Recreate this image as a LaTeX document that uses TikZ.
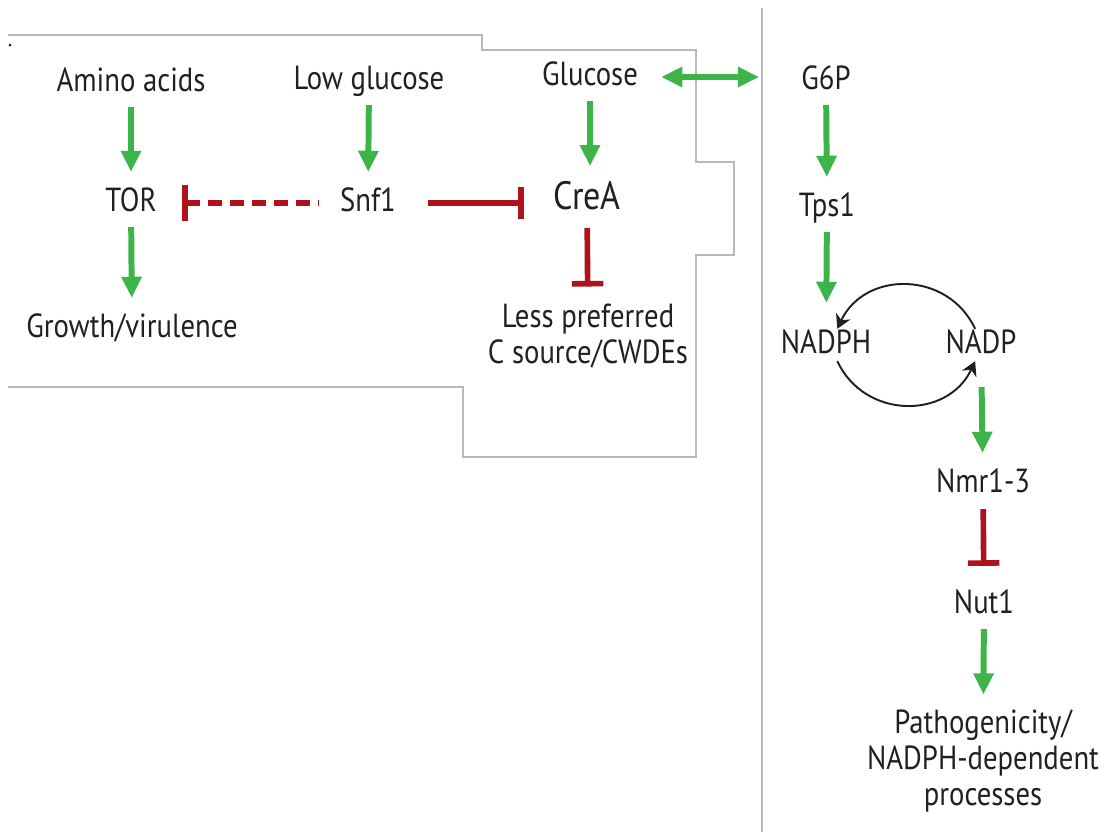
\documentclass[tikz,border=0pt]{standalone}
\usepackage{fontspec}
\setmainfont{PT Sans}[FakeStretch=0.86]
\usetikzlibrary{arrows.meta}
\definecolor{texto}{RGB}{35,31,32}
\definecolor{verde}{RGB}{60,180,72}
\definecolor{rojo}{RGB}{176,18,28}
\definecolor{marco}{RGB}{185,185,185}

\begin{document}
\begin{tikzpicture}[x=0.02cm, y=-0.02cm,
    nodo/.style={font=\fontsize{19}{20.5}\selectfont, text=texto, inner sep=0pt,
                 text height=14pt, text depth=4pt, align=center},
    varias/.style={nodo, text height={}, text depth={}},
    activa/.style={-{Triangle[width=11pt,length=12pt]}, line width=3.4pt, color=verde,
                   shorten <=0.16cm, shorten >=0.3cm},
    inhibe/.style={-{Bar[width=18pt]}, line width=3.2pt, color=rojo},
    ciclo/.style={-{Stealth[length=8pt,width=9pt]}, line width=1.1pt, color=texto}]
  \useasboundingbox (0,0) rectangle (1111,832);
  \draw[marco, line width=0.6pt] (8,35) -- (482,35) -- (482,50) -- (696,50) -- (696,162)
    -- (734,162) -- (734,255) -- (696,255) -- (696,457) -- (463,457) -- (463,387) -- (8,387);
  \draw[marco, line width=0.6pt] (762,8) -- (762,832);
  \fill[texto] (10,45) circle (1.5);
  % nodos
  \node[nodo] (amino) at (131,83) {Amino acids};
  \node[nodo] (bajagluc) at (369,81) {Low glucose};
  \node[nodo] (glucosa) at (590,77) {Glucose};
  \node[nodo] (g6p) at (826,81) {G6P};
  \node[nodo] (tor) at (131,203) {TOR};
  \node[nodo] (snf1) at (368,203) {Snf1};
  \node[nodo, font=\fontsize{22.5}{24}\selectfont, text height=16pt] (crea) at (587,199) {CreA};
  \node[nodo] (crecimiento) at (132,329) {Growth/virulence};
  \node[varias] (fuente) at (588,336) {Less preferred\\C source/CWDEs};
  \node[nodo] (tps1) at (827,208) {Tps1};
  \node[nodo] (nadph) at (826,345) {NADPH};
  \node[nodo] (nadp) at (981,345) {NADP};
  \node[nodo] (nmr) at (983,484) {Nmr1-3};
  \node[nodo] (nut1) at (984,605) {Nut1};
  \node[varias] (patog) at (983,761) {Pathogenicity/\\NADPH-dependent\\processes};
  % conexiones
  \draw[activa] (amino) -- (tor);
  \draw[activa] (bajagluc) -- (snf1);
  \draw[activa] (glucosa.south) -- (glucosa.south |- crea.north);
  \draw[activa] (tor) -- (crecimiento);
  \draw[activa, {Triangle[width=11pt,length=12pt]}-{Triangle[width=11pt,length=12pt]},
        shorten <=0.46cm, shorten >=0.84cm] (glucosa.east) -- (glucosa.east -| g6p.west);
  \draw[activa] (g6p) -- (tps1);
  \draw[activa, shorten >=0.52cm] (tps1) -- (nadph);
  \draw[activa, shorten <=0.52cm] (nadp) -- (nmr);
  \draw[activa] (nut1) -- (patog);
  \draw[inhibe, shorten <=0.64cm, shorten >=0.58cm] (snf1.east) -- (snf1.east -| crea.west);
  \draw[inhibe, {Bar[width=20pt]}-, dash pattern=on 8pt off 4.5pt,
        shorten <=0.5cm, shorten >=0.42cm] (tor.east) -- (snf1.west);
  \draw[inhibe, shorten <=0.22cm, shorten >=0.34cm] (crea) -- (fuente);
  \draw[inhibe, shorten <=0.18cm, shorten >=0.46cm] (nmr) -- (nut1);
  \draw[ciclo] (nadp.110) to[out=115, in=65, looseness=1.2] (nadph.55);
  \draw[ciclo] (nadph.-55) to[out=-65, in=-115, looseness=1.2] (nadp.-110);
\end{tikzpicture}
\end{document}
